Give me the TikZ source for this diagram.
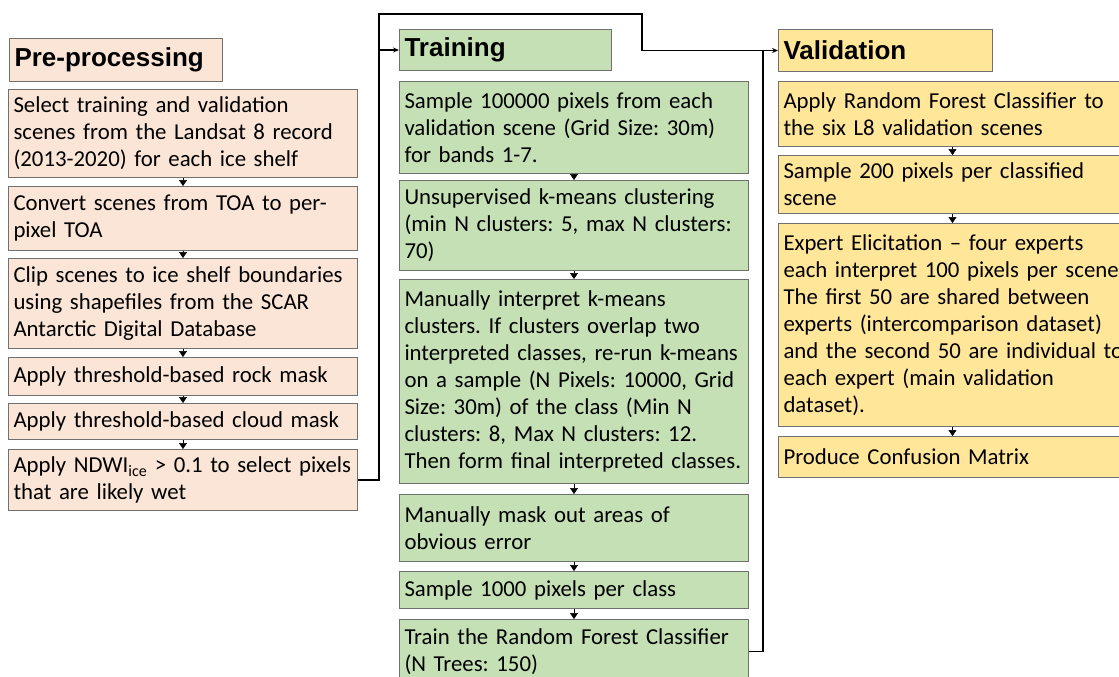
\documentclass[tikz,border=0pt]{standalone}
\usepackage{fontspec}
\setmainfont{Carlito}
\newfontfamily\headfont{Liberation Sans}
\usetikzlibrary{arrows.meta}
\frenchspacing
\hyphenpenalty=10000
\exhyphenpenalty=10000
\newcommand{\oneline}[1]{\mbox{#1}}
\definecolor{prefill}{HTML}{FBE5D6}
\definecolor{trainfill}{HTML}{C5E0B4}
\definecolor{valfill}{HTML}{FFE699}
\definecolor{boxline}{HTML}{707070}
\tikzset{
  box/.style={draw=boxline,line width=1pt,anchor=north west,align=left,
    inner xsep=5pt,inner ysep=2pt,font=\fontsize{22.8}{27}\selectfont},
  head/.style={box,font=\headfont\bfseries\fontsize{26}{30}\selectfont},
  prebox/.style={box,fill=prefill,text width=339pt},
  trainbox/.style={box,fill=trainfill,text width=339pt},
  valbox/.style={box,fill=valfill,text width=338pt},
  stepline/.style={-{Triangle[width=8pt,length=6pt]},line width=0.5pt},
  flow/.style={-{Stealth[length=6pt,width=5pt]},line width=1.2pt},
  wire/.style={line width=1.2pt}
}
\begin{document}
\begin{tikzpicture}[x=1pt,y=-1pt]
\useasboundingbox (0,0) rectangle (1119,677);
\node[head,fill=prefill,text width=203pt,minimum height=43pt] (P0) at (9,38) {Pre-processing};
\node[prebox,minimum height=88pt] (P1) at (8,89) {\oneline{Select training and validation}\\\oneline{scenes from the Landsat 8 record}\\\oneline{(2013-2020) for each ice shelf}};
\node[prebox,minimum height=64pt] (P2) at (8,186) {\oneline{Convert scenes from TOA to per-}\\pixel TOA};
\node[prebox,minimum height=90pt] (P3) at (8,258) {\oneline{Clip scenes to ice shelf boundaries}\\\oneline{using shapefiles from the SCAR}\\\oneline{Antarctic Digital Database}};
\node[prebox,minimum height=38pt] (P4) at (8,357) {\oneline{Apply threshold-based rock mask}};
\node[prebox,minimum height=36pt] (P5) at (8,403) {\oneline{Apply threshold-based cloud mask}};
\node[prebox,minimum height=61pt] (P6) at (8,449) {\oneline{Apply NDWI\textsubscript{ice} > 0.1 to select pixels}\\\oneline{that are likely wet}};

\node[head,fill=trainfill,text width=202pt,minimum height=41pt] (T0) at (399,29) {Training};
\node[trainbox,minimum height=92pt] (T1) at (399,81) {\oneline{Sample 100000 pixels from each}\\\oneline{validation scene (Grid Size: 30m)}\\\oneline{for bands 1-7.}};
\node[trainbox,minimum height=90pt] (T2) at (399,180) {\oneline{Unsupervised k-means clustering}\\\oneline{(min N clusters: 5, max N clusters:}\\70)};
\node[trainbox,minimum height=204pt] (T3) at (399,279) {\oneline{Manually interpret k-means}\\\oneline{clusters. If clusters overlap two}\\\oneline{interpreted classes, re-run k-means}\\\oneline{on a sample (N Pixels: 10000, Grid}\\\oneline{Size: 30m) of the class (Min N}\\\oneline{clusters: 8, Max N clusters: 12.}\\\oneline{Then form final interpreted classes.}};
\node[trainbox,minimum height=67pt] (T4) at (399,494) {\oneline{Manually mask out areas of}\\\oneline{obvious error}};
\node[trainbox,minimum height=37pt] (T5) at (399,571) {\oneline{Sample 1000 pixels per class}};
\node[trainbox,minimum height=64pt] (T6) at (399,619) {\oneline{Train the Random Forest Classifier}\\\oneline{(N Trees: 150)}};

\node[head,fill=valfill,text width=204pt,minimum height=42pt] (V0) at (778,29) {Validation};
\node[valbox,minimum height=65pt] (V1) at (778,81) {\oneline{Apply Random Forest Classifier to}\\\oneline{the six L8 validation scenes}};
\node[valbox,minimum height=58pt] (V2) at (778,155) {\oneline{Sample 200 pixels per classified}\\scene};
\node[valbox,minimum height=203pt] (V3) at (778,223) {\oneline{Expert Elicitation – four experts}\\\oneline{each interpret 100 pixels per scene.}\\\oneline{The first 50 are shared between}\\\oneline{experts (intercomparison dataset)}\\\oneline{and the second 50 are individual to}\\\oneline{each expert (main validation}\\dataset).};
\node[valbox,minimum height=41pt] (V4) at (778,436) {\oneline{Produce Confusion Matrix}};

\foreach \a/\b in {P1/P2,P2/P3,P3/P4,P4/P5,P5/P6,T1/T2,T2/T3,T3/T4,T4/T5,T5/T6,V1/V2,V2/V3,V3/V4}
  \draw[stepline] (\a) -- (\b);

\coordinate (jA) at (379,14);
\coordinate (jB) at (642,14);
\coordinate (jC) at (763,50);
\draw[flow] (P6.east) -| (jA) -- (jB) |- (V0.west);
\draw[flow] (jA |- T0.west) -- (T0.west);
\draw[wire] (T6.east) -| (jC);
\end{tikzpicture}
\end{document}
